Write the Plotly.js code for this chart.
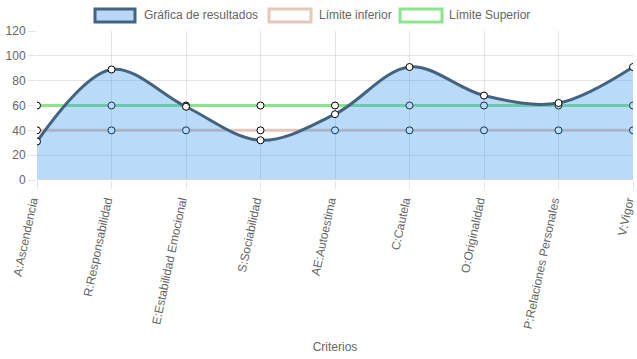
<!DOCTYPE html>
<html>
<head>
<meta charset="utf-8">
<script src="https://cdn.plot.ly/plotly-3.0.1.min.js"></script>
<style>html,body{margin:0;padding:0;background:#fff;}#chart{width:637px;height:359px;}</style>
</head>
<body>
<div id="chart"></div>
<script>
var categories = ["A:Ascendencia","R:Responsabilidad","E:Estabilidad Emocional","S:Sociabilidad","AE:Autoestima","C:Cautela","O:Originalidad","P:Relaciones Personales","V:Vigor"];
var resultados = [31, 89, 59, 32, 53, 91, 68, 62, 91];
var limiteInferior = [40, 40, 40, 40, 40, 40, 40, 40, 40];
var limiteSuperior = [60, 60, 60, 60, 60, 60, 60, 60, 60];
var seriesNames = ["Gráfica de resultados", "Límite inferior", "Límite Superior"];
var yTicks = [0, 20, 40, 60, 80, 100, 120];

var W = 637, H = 359, ML = 37, MR = 4, MT = 31, MB = 179;
var PW = W - ML - MR, PH = H - MT - MB;
function px(x) { return (x - ML) / PW; }
function py(y) { return (H - MB - y) / PH; }

var colRes = "rgb(66,100,130)";
var fillRes = "rgba(54,150,235,0.35)";
var colInf = "rgba(225,190,175,0.85)";
var colSup = "rgba(130,225,130,0.9)";
var marker = {size: 7, color: "#fff", line: {color: "#000", width: 1}};

var traces = [
  {x: categories, y: limiteInferior, name: seriesNames[1], type: "scatter", mode: "lines+markers",
   line: {color: colInf, width: 3}, marker: marker, hoverinfo: "x+y"},
  {x: categories, y: limiteSuperior, name: seriesNames[2], type: "scatter", mode: "lines+markers",
   line: {color: colSup, width: 3}, marker: marker, hoverinfo: "x+y"},
  {x: categories, y: resultados, name: seriesNames[0], type: "scatter", mode: "lines+markers",
   line: {color: colRes, width: 3, shape: "spline", smoothing: 1}, fill: "tozeroy", fillcolor: fillRes,
   marker: marker, hoverinfo: "x+y"}
];

var legendItems = [
  {x0: 95, x1: 135, tx: 142, text: seriesNames[0], fill: "rgb(184,216,245)", line: colRes},
  {x0: 269, x1: 311, tx: 317, text: seriesNames[1], fill: "#fff", line: colInf},
  {x0: 400, x1: 442, tx: 447, text: seriesNames[2], fill: "#fff", line: colSup}
];
var shapes = [
  {type: "line", xref: "paper", yref: "y", x0: 0, x1: 1, y0: 0, y1: 0, layer: "above",
   line: {color: "rgb(214,214,214)", width: 2}}
];
var annotations = [];
legendItems.forEach(function (it) {
  shapes.push({type: "rect", xref: "paper", yref: "paper", x0: px(it.x0), x1: px(it.x1), y0: py(22), y1: py(9),
    fillcolor: it.fill, line: {color: it.line, width: 3}});
  annotations.push({xref: "paper", yref: "paper", x: px(it.tx), y: py(15.5), xanchor: "left", yanchor: "middle",
    text: it.text, showarrow: false, font: {family: "Liberation Sans, Arial, sans-serif", size: 12, color: "#666"}});
});

var layout = {
  width: W, height: H,
  margin: {l: ML, r: MR, t: MT, b: MB, pad: 0},
  paper_bgcolor: "#fff", plot_bgcolor: "#fff",
  showlegend: false,
  font: {family: "Liberation Sans, Arial, sans-serif", size: 12, color: "#666"},
  xaxis: {
    type: "category", range: [0, categories.length - 1],
    tickangle: -78, showgrid: true, gridcolor: "rgba(0,0,0,0.1)",
    ticks: "outside", ticklen: 8, tickcolor: "rgba(0,0,0,0.1)",
    ticklabelshift: -5,
    showline: false, zeroline: false, automargin: false,
    tickfont: {size: 12, color: "#666"},
    title: {text: "Criterios", font: {size: 12, color: "#666"}, standoff: 13}
  },
  yaxis: {
    range: [0, 120], tickvals: yTicks, showgrid: true, gridcolor: "rgba(0,0,0,0.1)",
    ticks: "outside", ticklen: 8, tickcolor: "rgba(0,0,0,0.1)",
    zeroline: false,
    showline: false, automargin: false,
    tickfont: {size: 12, color: "#666"}
  },
  shapes: shapes,
  annotations: annotations
};

Plotly.newPlot("chart", traces, layout, {displayModeBar: false, staticPlot: true});
</script>
</body>
</html>
